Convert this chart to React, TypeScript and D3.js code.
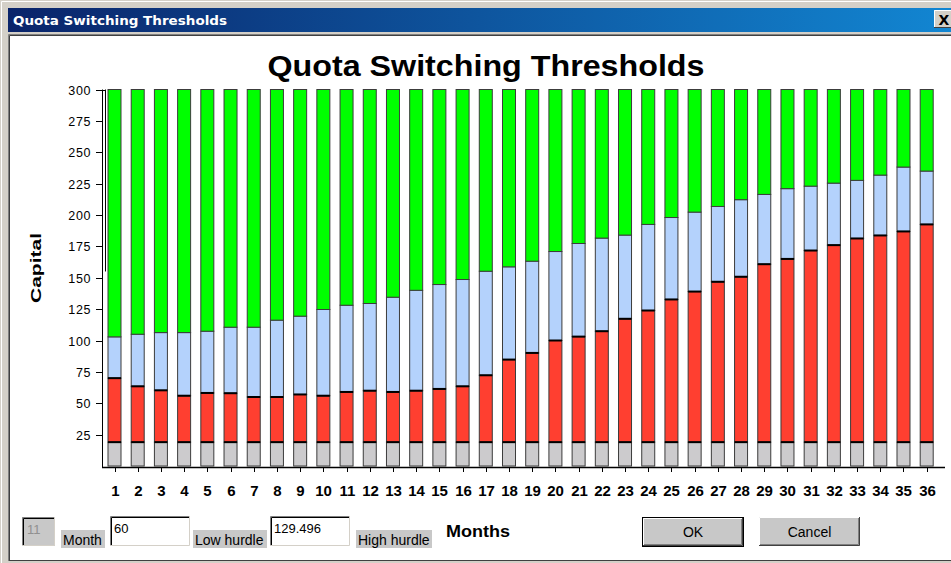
import * as d3 from 'd3';

const months = d3.range(1, 37);
// top of the grey base, red, and light blue segments; green goes up to 300
const baseTop = 19;
const redTop = [70, 63.5, 60.3, 56, 58.2, 58, 55, 55, 57, 56, 59, 60, 59, 60, 61.4, 63.5, 72.3, 84.8,
    90.1, 100, 103.1, 107.4, 117.3, 123.9, 132.7, 139, 146.8, 150.8, 160.8, 165, 171.7, 176, 181.3, 183.7, 186.9, 192.5];
const blueTop = [102.9, 105, 106.3, 106.3, 107.4, 110.6, 110.6, 116.2, 119.4, 124.7, 128.1, 129.5, 134.5, 140,
    144.6, 148.6, 155.2, 158.7, 163.2, 170.9, 177.3, 181.6, 184, 192.5, 198, 202.3, 206.8, 212.2, 216.4, 221,
    223, 225.4, 227.6, 231.8, 238.2, 235];
const yMax = 300;
const yTicks = d3.range(25, 301, 25);

const colors = ['#cccbcd', '#ff3f30', '#b4d2fc', '#00ff00'];

const W = 951, H = 563;
const FONT = 'Liberation Sans, Arial, sans-serif';

function Sunken({x, y, w, h, fill}: { x: number, y: number, w: number, h: number, fill: string }) {
    return (
        <g>
            <rect x={x} y={y} width={w} height={h} fill={fill}/>
            <path d={`M${x + 0.5},${y + h} V${y + 0.5} H${x + w}`} stroke="#808080" fill="none"/>
            <path d={`M${x + 1.5},${y + h - 1} V${y + 1.5} H${x + w - 1}`} stroke="#000" fill="none"/>
            <path d={`M${x},${y + h - 0.5} H${x + w - 0.5} V${y}`} stroke="#d4d0c8" fill="none"/>
        </g>
    );
}

function Button({x, y, w, h, label, isDefault}: { x: number, y: number, w: number, h: number, label: string, isDefault?: boolean }) {
    const o = isDefault ? 1 : 0;
    return (
        <g>
            {isDefault && <rect x={x + 0.5} y={y + 0.5} width={w - 1} height={h - 1} fill="none" stroke="#000"/>}
            <rect x={x + o} y={y + o} width={w - 2 * o} height={h - 2 * o} fill="#c8c8c8"/>
            <path d={`M${x + o + 0.5},${y + h - o} V${y + o + 0.5} H${x + w - o}`} stroke="#fff" fill="none"/>
            <path d={`M${x + o},${y + h - o - 0.5} H${x + w - o - 0.5} V${y + o}`} stroke="#404040" fill="none"/>
            <path d={`M${x + o + 1},${y + h - o - 1.5} H${x + w - o - 1.5} V${y + o + 1}`} stroke="#808080" fill="none"/>
            <text x={x + w / 2} y={y + h / 2 + 5} textAnchor="middle" fontSize={14}
                  fontFamily={FONT} fill="#000">{label}</text>
        </g>
    );
}

export default function App() {
    const x = d3.scalePoint<number>(months, [114.5, 926.7]);
    const y = d3.scaleLinear([0, yMax], [466, 89.5]);
    const bw = 13;

    const bars = months.map((m, i) => {
        const stops = [0, baseTop, redTop[i], blueTop[i], yMax];
        return {m, segs: d3.pairs(stops)};
    });

    return (
        <svg width={W} height={H} style={{position: 'absolute', left: 0, top: 0}}>
            <defs>
                <linearGradient id="tb" x1="0" x2="1" y1="0" y2="0">
                    <stop offset="0" stopColor="#0a246a"/>
                    <stop offset="1" stopColor="#1286d2"/>
                </linearGradient>
            </defs>
            {/* window frame */}
            <rect x={0} y={0} width={W} height={H} fill="#d4d0c8"/>
            <path d={`M1.5,${H} V1.5 H${W}`} stroke="#fff" fill="none"/>
            <rect x={8} y={8} width={W - 8} height={24} fill="url(#tb)"/>
            <text x={13} y={25} fontSize={13} fontWeight="bold" fill="#fff"
                  fontFamily="DejaVu Sans, Verdana, sans-serif" textLength={214}
                  lengthAdjust="spacingAndGlyphs">Quota Switching Thresholds</text>
            <g>
                <rect x={934} y={10} width={20} height={18} fill="#d4d0c8"/>
                <path d="M934.5,28 V10.5 H954" stroke="#fff" fill="none"/>
                <path d="M934,27.5 H954" stroke="#404040" fill="none"/>
                <text x={944} y={25} textAnchor="middle" fontSize={14} fontWeight="bold"
                      fontFamily="DejaVu Sans, sans-serif">X</text>
            </g>
            {/* client area */}
            <rect x={10} y={35} width={W - 10} height={525} fill="#fff"/>
            <path d={`M8.5,561 V34.5 H${W}`} stroke="#808080" fill="none"/>
            <path d={`M9.5,560 V35.5 H${W}`} stroke="#404040" fill="none"/>
            <path d={`M9,560.5 H${W}`} stroke="#404040" fill="none"/>

            {/* chart title */}
            <text x={486} y={76} textAnchor="middle" fontSize={29} fontWeight="bold"
                  fontFamily={FONT} textLength={437} lengthAdjust="spacingAndGlyphs">Quota Switching Thresholds</text>

            {/* y axis */}
            <line x1={102.5} x2={102.5} y1={y(yMax)} y2={467} stroke="#000"/>
            <line x1={105.5} x2={105.5} y1={y(yMax)} y2={y(155)} stroke="#000"/>
            <line x1={97} x2={106} y1={Math.round(y(yMax)) + 0.5} y2={Math.round(y(yMax)) + 0.5} stroke="#000"/>
            {yTicks.map(t => (
                <g key={t} transform={`translate(0,${Math.round(y(t)) + 0.5})`}>
                    <line x1={96} x2={103} stroke="#000"/>
                    <text x={91} y={4.5} textAnchor="end" fontSize={12.5} letterSpacing={0.6}
                          fontFamily={FONT}>{t}</text>
                </g>
            ))}
            <text transform="translate(41,268) rotate(-90)" textAnchor="middle" fontSize={15} fontWeight="bold"
                  fontFamily={FONT} textLength={70} lengthAdjust="spacingAndGlyphs">Capital</text>

            {/* bars */}
            {bars.map(b => {
                const cx = x(b.m)!;
                return (
                    <g key={b.m}>
                        {b.segs.map(([lo, hi], k) => (
                            <rect key={k} x={cx - bw / 2} y={y(hi)} width={bw} height={y(lo) - y(hi)}
                                  fill={colors[k]} stroke="#3c3c3c" strokeWidth={1}/>
                        ))}
                        <line x1={cx - bw / 2} x2={cx + bw / 2} y1={y(b.segs[0][1])} y2={y(b.segs[0][1])}
                              stroke="#000" strokeWidth={2}/>
                        <line x1={cx - bw / 2} x2={cx + bw / 2} y1={y(b.segs[1][1])} y2={y(b.segs[1][1])}
                              stroke="#000" strokeWidth={2}/>
                    </g>
                );
            })}

            {/* x axis */}
            <line x1={102} x2={945} y1={467.5} y2={467.5} stroke="#000" strokeWidth={1.5}/>
            {months.map(m => (
                <g key={m} transform={`translate(${Math.round(x(m)!) + 0.5},467)`}>
                    <line y1={0} y2={5} stroke="#000"/>
                    <text y={29} textAnchor="middle" fontSize={15} fontWeight="bold"
                          fontFamily={FONT}>{m}</text>
                </g>
            ))}

            {/* dialog controls */}
            <Sunken x={22} y={517} w={33} h={29} fill="#c8c8c8"/>
            <text x={27} y={534} fontSize={13} fill="#909090" fontFamily={FONT}>11</text>
            <rect x={61} y={530} width={44} height={18} fill="#c8c8c8"/>
            <text x={63} y={545} fontSize={14} fontFamily={FONT}>Month</text>

            <Sunken x={110} y={516} w={80} h={30} fill="#fff"/>
            <text x={114} y={533} fontSize={13} fontFamily={FONT}>60</text>
            <rect x={193} y={530} width={74} height={18} fill="#c8c8c8"/>
            <text x={195} y={545} fontSize={14} fontFamily={FONT}>Low hurdle</text>

            <Sunken x={270} y={516} w={80} h={30} fill="#fff"/>
            <text x={274} y={533} fontSize={13} fontFamily={FONT}>129.496</text>
            <rect x={356} y={530} width={76} height={18} fill="#c8c8c8"/>
            <text x={358} y={545} fontSize={14} fontFamily={FONT}>High hurdle</text>

            <text x={446} y={537} fontSize={16} fontWeight="bold" textLength={64} lengthAdjust="spacingAndGlyphs"
                  fontFamily={FONT}>Months</text>

            <Button x={642} y={517} w={102} h={30} label="OK" isDefault/>
            <Button x={759} y={517} w={101} h={29} label="Cancel"/>
        </svg>
    );
}
